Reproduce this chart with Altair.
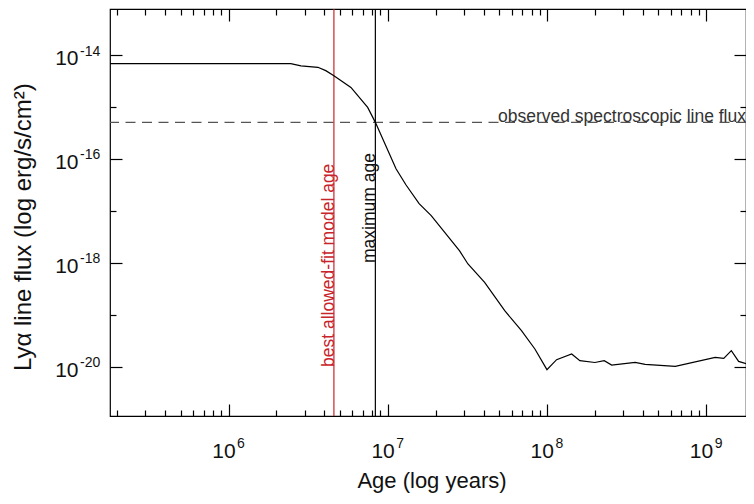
import altair as alt
import pandas as pd

# ---- data ----
age = [1.8e5, 2.46e6, 2.85e6, 3.64e6, 4.08e6, 4.59e6, 5.87e6, 7.48e6, 8.36e6,
       1.127e7, 1.30e7, 1.574e7, 1.875e7, 2.82e7, 3.19e7, 4.06e7, 5.43e7, 6.92e7, 8.40e7,
       1.0e8, 1.15e8, 1.43e8, 1.61e8, 2.0e8, 2.29e8, 2.55e8, 3.58e8, 4.14e8, 6.40e8,
       1.14e9, 1.29e9, 1.44e9, 1.60e9, 2.0e9]
flux = [6.8e-15, 6.8e-15, 6.2e-15, 5.8e-15, 5.0e-15, 4.0e-15, 2.38e-15, 9.8e-16, 5.06e-16,
        6.5e-17, 3.2e-17, 1.38e-17, 8.13e-18, 1.73e-18, 9.57e-19, 4.24e-19, 1.21e-19, 4.99e-20, 2.22e-20,
        8.87e-21, 1.38e-20, 1.78e-20, 1.32e-20, 1.22e-20, 1.32e-20, 1.09e-20, 1.22e-20, 1.12e-20, 1.03e-20,
        1.53e-20, 1.46e-20, 2.06e-20, 1.28e-20, 1.03e-20]

best_age = [4.59e6]
max_age = [8.36e6]
observed_flux = [5.06e-16]

x_major = [1e6, 1e7, 1e8, 1e9]
x_exp = ["6", "7", "8", "9"]
x_minor = [k * 10.0 ** e for e in range(5, 9) for k in range(2, 10) if k * 10.0 ** e >= 1.8e5]
y_major = [1e-14, 1e-16, 1e-18, 1e-20]
y_exp = ["-14", "-16", "-18", "-20"]
y_minor = [1e-15, 1e-17, 1e-19]

best_label = "best allowed-fit model age"
max_label = "maximum age"
obs_label = "observed spectroscopic line flux"
x_title = "Age (log years)"
y_title = "Lyα line flux (log erg/s/cm²)"

# ---- layout / style ----
W, H = 636, 407
FONT = "Liberation Sans"
RED = "#c8242b"
xs = alt.Scale(type="log", domain=[1.8e5, 1.78e9], nice=False)
ys = alt.Scale(type="log", domain=[1.14e-21, 7.67e-14], nice=False)


def ax(orient, offset, values, size):
    return alt.Axis(orient=orient, offset=offset, values=values, tickSize=size,
                    labels=False, domain=False, grid=False, title=None,
                    ticks=True, tickColor="black", tickWidth=1.2)


curve = pd.DataFrame({"age": age, "flux": flux})
best_df = pd.DataFrame({"age": best_age, "flux": [1e-20], "label": [best_label]})
max_df = pd.DataFrame({"age": max_age, "flux": [1e-18], "label": [max_label]})
obs_df = pd.DataFrame({"flux": observed_flux, "label": [obs_label]})
xlab = pd.DataFrame({"v": x_major, "base": ["10"] * 4, "exp": x_exp})
ylab = pd.DataFrame({"v": y_major, "base": ["10"] * 4, "exp": y_exp})

dashed = alt.Chart(obs_df).mark_rule(color="#555555", strokeWidth=1.3, strokeDash=[10, 6.5]).encode(
    y=alt.Y("flux:Q", scale=ys, axis=ax("right", -W, y_minor, 6))
)
red_rule = alt.Chart(best_df).mark_rule(color=RED, strokeWidth=1.2).encode(
    x=alt.X("age:Q", scale=xs, axis=ax("top", -H, x_minor, 6))
)
black_rule = alt.Chart(max_df).mark_rule(color="black", strokeWidth=1.2).encode(
    x=alt.X("age:Q", scale=xs, axis=ax("bottom", -H, x_major, 12))
)
line = alt.Chart(curve).mark_line(color="black", strokeWidth=1.2, clip=True).encode(
    x=alt.X("age:Q", scale=xs, axis=ax("top", -H, x_major, 12)),
    y=alt.Y("flux:Q", scale=ys, axis=ax("right", -W, y_major, 12)),
)
red_text = alt.Chart(best_df).mark_text(
    angle=270, align="left", baseline="alphabetic", font=FONT, fontSize=17.5, color=RED
).encode(
    x=alt.X("age:Q", scale=xs, axis=ax("bottom", -H, x_minor, 6)),
    y=alt.Y("flux:Q", scale=ys, axis=ax("left", -W, y_major, 12)),
    text="label:N",
)
black_text = alt.Chart(max_df).mark_text(
    angle=270, align="left", baseline="alphabetic", font=FONT, fontSize=17.5, color="#111111"
).encode(
    x=alt.X("age:Q", scale=xs, axis=None),
    y=alt.Y("flux:Q", scale=ys, axis=ax("left", -W, y_minor, 6)),
    text="label:N",
)
obs_text = alt.Chart(obs_df).mark_text(
    align="right", baseline="alphabetic", font=FONT, fontSize=17.5, color="#333333"
).encode(
    x=alt.value(W),
    y=alt.Y("flux:Q", scale=ys, axis=None),
    text="label:N",
)
xbase = alt.Chart(xlab).mark_text(align="right", baseline="alphabetic", dx=7, font=FONT, fontSize=21, color="#111111").encode(
    x=alt.X("v:Q", scale=xs, axis=None), y=alt.value(H + 42), text="base:N")
xsup = alt.Chart(xlab).mark_text(align="left", baseline="alphabetic", dx=8.5, font=FONT, fontSize=14, color="#111111").encode(
    x=alt.X("v:Q", scale=xs, axis=None), y=alt.value(H + 32), text="exp:N")
ybase = alt.Chart(ylab).mark_text(align="right", baseline="alphabetic", dy=10, font=FONT, fontSize=21, color="#111111").encode(
    y=alt.Y("v:Q", scale=ys, axis=None), x=alt.value(-31.5), text="base:N")
ysup = alt.Chart(ylab).mark_text(align="left", baseline="alphabetic", dy=0.5, font=FONT, fontSize=14, color="#111111").encode(
    y=alt.Y("v:Q", scale=ys, axis=None), x=alt.value(-30), text="exp:N")
xt = alt.Chart(pd.DataFrame({"t": [x_title]})).mark_text(
    align="center", baseline="alphabetic", font=FONT, fontSize=22, color="#111111").encode(
    x=alt.value(322), y=alt.value(H + 72), text="t:N")
yt = alt.Chart(pd.DataFrame({"t": [y_title]})).mark_text(
    angle=270, align="left", baseline="alphabetic", font=FONT, fontSize=24, color="#111111").encode(
    x=alt.value(-79), y=alt.value(362), text="t:N")

chart = alt.layer(
    dashed, red_rule, black_rule, line, red_text, black_text, obs_text,
    xbase, xsup, ybase, ysup, xt, yt
).resolve_axis(x="independent", y="independent").properties(
    width=W, height=H,
    autosize=alt.AutoSizeParams(type="none"),
    padding={"left": 102, "top": 1, "right": 0, "bottom": 77},
    background="white",
).configure_view(stroke="black", strokeWidth=1.2)

chart.save("out.html", embed_options={"renderer": "svg", "actions": False})
